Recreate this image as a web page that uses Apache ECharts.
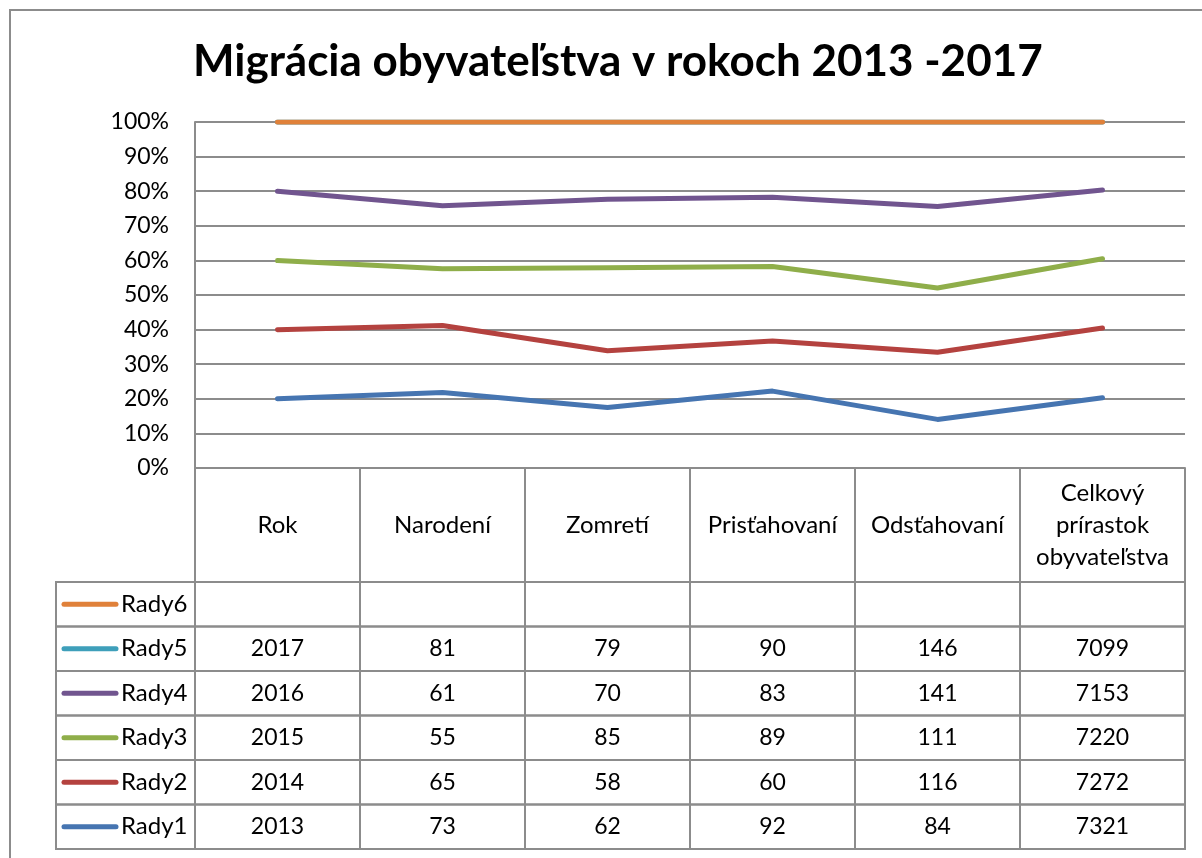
<!DOCTYPE html>
<html>
<head>
<meta charset="utf-8">
<script src="https://cdn.jsdelivr.net/npm/echarts@6/dist/echarts.min.js"></script>
<style>
  html, body { margin: 0; padding: 0; background: #fff; }
  #chart { width: 1202px; height: 858px; }
</style>
</head>
<body>
<div id="chart"></div>
<script>
// udaje z tabulky
const categories = ["Rok", "Narodení", "Zomretí", "Prisťahovaní", "Odsťahovaní", "Celkový\nprírastok\nobyvateľstva"];
const seriesNames = ["Rady1", "Rady2", "Rady3", "Rady4", "Rady5", "Rady6"];
const rady1 = [2013, 73, 62, 92, 84, 7321];
const rady2 = [2014, 65, 58, 60, 116, 7272];
const rady3 = [2015, 55, 85, 89, 111, 7220];
const rady4 = [2016, 61, 70, 83, 141, 7153];
const rady5 = [2017, 81, 79, 90, 146, 7099];
const rady6 = [null, null, null, null, null, null];
const colors = ["#4675b1", "#b4423f", "#8fae4a", "#71558f", "#3e9fba", "#e0813a"];

const allRows = [rady1, rady2, rady3, rady4, rady5, rady6];
const font = "Lato, 'Open Sans', sans-serif";
const gray = "#8c8c8c";

// 100 % skladany graf - podiel kazdej rady v kategorii
const colSum = categories.map((c, j) => allRows.reduce((s, r) => s + (r[j] || 0), 0));
const pct = allRows.map(r => r.map((v, j) => (v || 0) / colSum[j] * 100));

const plotLeft = 195, plotRight = 1185, plotTop = 122, plotBottom = 468;
const headerH = 114, rowH = 44.5, legendLeft = 56;
const colW = (plotRight - plotLeft) / categories.length;
const tableTop = plotBottom + headerH;

const myChart = echarts.init(document.getElementById("chart"));

// tabulka s udajmi pod grafom
const graphics = [
  {
    type: "rect",
    z: -1,
    shape: { x: 10, y: 10, width: 1400, height: 1000 },
    style: { fill: "none", stroke: gray, lineWidth: 2 },
  },
];
seriesNames.slice().reverse().forEach((name, i) => {
  const idx = seriesNames.length - 1 - i;
  const y = tableTop + i * rowH;
  graphics.push({
    type: "rect",
    shape: { x: legendLeft, y: y, width: plotLeft - legendLeft, height: rowH },
    style: { fill: "none", stroke: gray, lineWidth: 2 },
  });
  graphics.push({
    type: "line",
    shape: { x1: 64, y1: y + rowH / 2, x2: 116, y2: y + rowH / 2 },
    style: { stroke: colors[idx], lineWidth: 5, lineCap: "round" },
  });
  graphics.push({
    type: "text",
    x: 121,
    y: y + rowH / 2,
    style: {
      text: name, font: "24px " + font, fill: "#000",
      align: "left", verticalAlign: "middle", textAlign: "left", textVerticalAlign: "middle",
    },
  });
  allRows[idx].forEach((v, j) => {
    graphics.push({
      type: "rect",
      shape: { x: plotLeft + j * colW, y: y, width: colW, height: rowH },
      style: { fill: "none", stroke: gray, lineWidth: 2 },
    });
    if (v !== null) {
      graphics.push({
        type: "text",
        x: plotLeft + (j + 0.5) * colW,
        y: y + rowH / 2,
        style: {
          text: String(v), font: "23px " + font, fill: "#000",
          align: "center", verticalAlign: "middle", textAlign: "center", textVerticalAlign: "middle",
        },
      });
    }
  });
});

const option = {
  animation: false,
  backgroundColor: "#fff",
  title: {
    text: "Migrácia obyvateľstva v rokoch 2013 -2017",
    left: 188,
    top: 35,
    textStyle: { fontFamily: font, fontSize: 44, fontWeight: "bold", color: "#000" },
  },
  grid: {
    left: plotLeft,
    right: 1202 - plotRight,
    top: plotTop,
    bottom: 858 - plotBottom,
  },
  xAxis: {
    type: "category",
    data: categories,
    boundaryGap: true,
    axisLine: { show: true, lineStyle: { color: gray, width: 2 } },
    axisTick: { show: true, interval: 0, length: headerH, lineStyle: { color: gray, width: 2 } },
    axisLabel: {
      interval: 0,
      margin: headerH / 2,
      verticalAlign: "middle",
      lineHeight: 32,
      fontFamily: font,
      fontSize: 24,
      color: "#000",
    },
  },
  yAxis: {
    type: "value",
    min: 0,
    max: 100,
    interval: 10,
    axisLine: { show: true, lineStyle: { color: gray, width: 2 } },
    axisTick: { show: false },
    splitLine: { lineStyle: { color: gray, width: 2 } },
    axisLabel: {
      formatter: "{value}%",
      margin: 26,
      fontFamily: font,
      fontSize: 23,
      color: "#000",
    },
  },
  series: seriesNames.map((name, i) => ({
    name: name,
    type: "line",
    stack: "spolu",
    data: pct[i],
    showSymbol: false,
    lineStyle: { color: colors[i], width: 5, cap: "round", join: "round" },
    itemStyle: { color: colors[i] },
  })),
  graphic: graphics,
};

myChart.setOption(option);
</script>
</body>
</html>
